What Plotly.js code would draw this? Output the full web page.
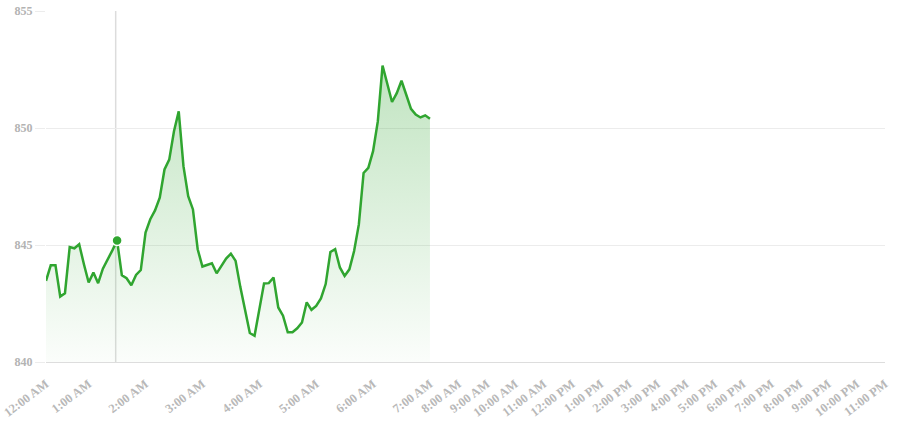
<!DOCTYPE html>
<html>
<head>
<meta charset="utf-8">
<script src="https://cdn.plot.ly/plotly-3.0.1.min.js"></script>
<style>
  html, body { margin: 0; padding: 0; background: #ffffff; }
  #chart { width: 898px; height: 425px; }
</style>
</head>
<body>
<div id="chart"></div>
<script>
// Price series, one value per slot (index 0..81)
const prices = [
  843.47, 844.13, 844.13, 842.80, 842.94, 844.91, 844.86, 845.03, 844.18, 843.40,
  843.82, 843.37, 843.99, 844.35, 844.77, 845.19, 843.71, 843.58, 843.28, 843.72,
  843.93, 845.53, 846.10, 846.48, 847.02, 848.23, 848.65, 849.86, 850.71, 848.37,
  847.09, 846.52, 844.82, 844.08, 844.15, 844.22, 843.79, 844.11, 844.42, 844.63,
  844.32, 843.20, 842.26, 841.24, 841.12, 842.19, 843.36, 843.37, 843.61, 842.33,
  841.98, 841.27, 841.27, 841.44, 841.69, 842.55, 842.23, 842.40, 842.72, 843.33,
  844.70, 844.82, 844.04, 843.68, 843.96, 844.74, 845.88, 848.08, 848.30, 849.01,
  850.28, 852.67, 851.92, 851.11, 851.49, 852.02, 851.42, 850.82, 850.57, 850.45,
  850.54, 850.39
];

// Hour tick labels and the slot index each one sits on
const tickLabels = [
  "12:00 AM", "1:00 AM", "2:00 AM", "3:00 AM", "4:00 AM", "5:00 AM", "6:00 AM", "7:00 AM",
  "8:00 AM", "9:00 AM", "10:00 AM", "11:00 AM", "12:00 PM", "1:00 PM", "2:00 PM", "3:00 PM",
  "4:00 PM", "5:00 PM", "6:00 PM", "7:00 PM", "8:00 PM", "9:00 PM", "10:00 PM", "11:00 PM"
];
const tickSlots = [
  0, 9, 21, 33, 45, 57, 69, 81,
  87, 93, 99, 105, 111, 117, 123, 129,
  135, 141, 147, 153, 159, 165, 171, 177
];

// Highlighted (hovered) slot
const hoverSlot = 15;

const yRange = [840, 855];
const slots = prices.map((_, i) => i);

const lineColor = 'rgb(48,165,48)';

const traces = [
  {
    x: slots,
    y: prices,
    type: 'scatter',
    mode: 'lines',
    line: { color: lineColor, width: 2.5, shape: 'linear' },
    fill: 'tozeroy',
    fillgradient: {
      type: 'vertical',
      start: yRange[0],
      stop: Math.max(...prices),
      colorscale: [
        [0, 'rgba(48,165,48,0.02)'],
        [1, 'rgba(48,165,48,0.30)']
      ]
    },
    hoverinfo: 'skip'
  },
  {
    x: [slots[hoverSlot]],
    y: [prices[hoverSlot]],
    type: 'scatter',
    mode: 'markers',
    marker: { color: lineColor, size: 10, line: { color: '#ffffff', width: 1.5 } },
    hoverinfo: 'skip'
  }
];

const yTickFont = { family: '"Liberation Serif", "Times New Roman", serif', size: 12, color: '#b3b3b3', weight: 'bold' };
const xTickFont = { family: '"Liberation Serif", "Times New Roman", serif', size: 12.5, color: '#b8b8b8', weight: 'bold' };

const layout = {
  width: 898,
  height: 425,
  margin: { l: 46, r: 13, t: 11, b: 63 },
  paper_bgcolor: '#ffffff',
  plot_bgcolor: '#ffffff',
  showlegend: false,
  xaxis: {
    type: 'linear',
    range: [tickSlots[0], tickSlots[tickSlots.length - 1]],
    tickmode: 'array',
    tickvals: tickSlots,
    ticktext: tickLabels,
    tickangle: -37,
    showgrid: false,
    zeroline: false,
    showline: true,
    linecolor: '#dddddd',
    linewidth: 1,
    ticks: 'outside',
    ticklen: 9,
    tickcolor: 'rgba(0,0,0,0)',
    tickfont: xTickFont,
    fixedrange: true
  },
  yaxis: {
    range: yRange,
    tickmode: 'linear',
    tick0: 840,
    dtick: 5,
    showgrid: true,
    gridcolor: '#ececec',
    gridwidth: 1,
    zeroline: false,
    showline: false,
    ticks: 'outside',
    ticklen: 10,
    tickcolor: '#ececec',
    tickfont: yTickFont,
    fixedrange: true
  },
  shapes: [
    {
      type: 'line',
      xref: 'x', yref: 'paper',
      x0: slots[hoverSlot] - 0.3, x1: slots[hoverSlot] - 0.3,
      y0: 0, y1: 1,
      line: { color: '#dcdcdc', width: 1.5 },
      layer: 'below'
    }
  ]
};

Plotly.newPlot('chart', traces, layout, { displayModeBar: false, staticPlot: true });
</script>
</body>
</html>
